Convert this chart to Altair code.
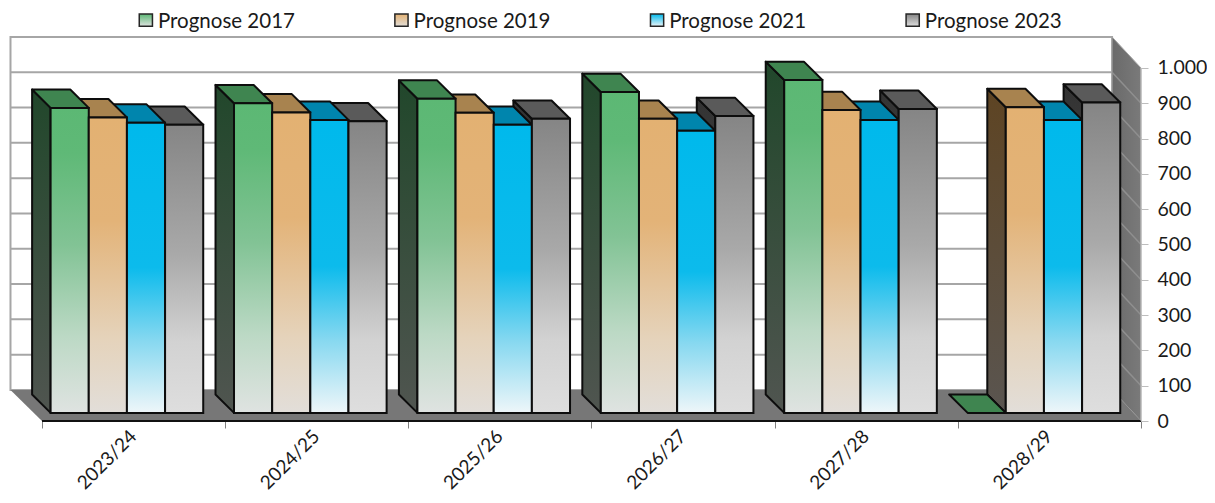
import json
import altair as alt
import pandas as pd

categories = ["2023/24", "2024/25", "2025/26", "2026/27", "2027/28", "2028/29"]
series = ["Prognose 2017", "Prognose 2019", "Prognose 2021", "Prognose 2023"]
values_2017 = [864, 877, 890, 909, 943, 0]
values_2019 = [837, 851, 850, 833, 858, 866]
values_2021 = [822, 830, 816, 799, 830, 830]
values_2023 = [816, 826, 833, 841, 861, 879]
all_values = [values_2017, values_2019, values_2021, values_2023]
y_ticks = list(range(0, 1100, 100))

FRONT = [
    [(0, "#5cb874"), (0.15, "#5fb977"), (0.45, "#82c395"), (0.75, "#bcd9c5"), (1, "#dfe3e1")],
    [(0, "#e3b172"), (0.35, "#e3b378"), (0.75, "#e5d3bb"), (1, "#e2ded9")],
    [(0, "#00b9ec"), (0.5, "#0cbbec"), (0.75, "#86d8f0"), (1, "#eef6f9")],
    [(0, "#858585"), (0.45, "#a9a9a9"), (0.75, "#d2d2d2"), (1, "#dedede")],
]
SIDE = [
    [(0, "#21472b"), (1, "#505550")],
    [(0, "#5e4423"), (1, "#5a5550")],
    [(0, "#00465f"), (1, "#50565a")],
    [(0, "#333333"), (1, "#555555")],
]
TOP = ["#3f8550", "#a8834f", "#0085ad", "#5a5a5a"]
FONT = "Lato"
INK = "#1a1a1a"
GRID = "#a6a6a6"

# scale geometry
W, H = 1133, 409
XDOM = [-34 / 183.17, 6]
YDOM = [0, 1158.6]
xs = alt.Scale(domain=XDOM, nice=False, zero=False)
ys = alt.Scale(domain=YDOM, nice=False, zero=False)

# depth constants in data units
WALL_L, WALL_R = -0.172, 5.842
WALL_DX, WALL_DY = 0.164, 88
BAR_W, BAR_X0, PITCH = 0.2083, 0.047, 1.0013
BAR_BASE, BAR_DX, BAR_DY = 23, 0.101, 52

x_expr = f"{json.dumps(categories)}[datum.value] || ''"
x_axis = alt.Axis(values=list(range(7)), domain=False, grid=False, tickColor="#808080", tickSize=7,
                  tickWidth=1, labelExpr=x_expr, labelAngle=315, labelAlign="right",
                  labelBaseline="middle", labelOffset=91, labelPadding=5, labelFont=FONT,
                  labelFontSize=19, labelColor=INK, labelFlush=False, labelOverlap=False,
                  labelBound=False)
y_axis = alt.Axis(orient="right", values=y_ticks, domain=False, grid=False, tickColor="#bdbdbd",
                  tickSize=7, tickWidth=1, labelExpr="datum.value == 1000 ? '1.000' : datum.label",
                  labelPadding=9, labelFont=FONT, labelFontSize=19.5, labelColor=INK,
                  labelOverlap=False, labelFlush=False, labelBound=False)


def grad(stops):
    return {"gradient": "linear", "x1": 0, "y1": 0, "x2": 0, "y2": 1,
            "stops": [{"offset": o, "color": c} for o, c in stops]}


def X():
    return alt.X("x:Q", scale=xs, axis=x_axis, title=None)


def Y():
    return alt.Y("y:Q", scale=ys, axis=y_axis, title=None, stack=None)


def rect(df, **mk):
    return alt.Chart(df).mark_rect(**mk).encode(X(), alt.X2("x2:Q"), Y(), alt.Y2("y2:Q"))


front_rows, side_rows, top_rows = [[], [], [], []], [[], [], [], []], [[], [], [], []]
for j, vals in enumerate(all_values):
    for i, v in enumerate(vals):
        x0 = BAR_X0 + i * PITCH + j * BAR_W
        x1 = x0 + BAR_W
        yb, yt = BAR_BASE, BAR_BASE + v
        key = f"{i}-{j}"
        if v > 0:
            front_rows[j].append({"x": x0, "x2": x1, "y": yb, "y2": yt})
            side_rows[j].append({"id": key, "x": x0, "y": yb, "y2": yt})
            side_rows[j].append({"id": key, "x": x0 - BAR_DX, "y": yb + BAR_DY, "y2": yt + BAR_DY})
        top_rows[j].append({"id": key, "y": yt, "x": x0, "x2": x1})
        top_rows[j].append({"id": key, "y": yt + BAR_DY, "x": x0 - BAR_DX, "x2": x1 - BAR_DX})

layers = []

# back wall
wall = pd.DataFrame([{"x": WALL_L, "x2": WALL_R, "y": WALL_DY, "y2": 1000 + WALL_DY}])
layers.append(rect(wall, fill="white", stroke=GRID, strokeWidth=2))

# gridlines on back wall and right side wall
tick_rows = [t for t in y_ticks if 0 < t < 1000]
grid_df = pd.DataFrame([{"x": WALL_L, "x2": WALL_R, "y": t + WALL_DY} for t in tick_rows])
layers.append(alt.Chart(grid_df).mark_rule(color=GRID, strokeWidth=2).encode(X(), alt.X2("x2:Q"), Y()))

side_wall = pd.DataFrame([
    {"x": WALL_R, "y": WALL_DY, "y2": 1000 + WALL_DY},
    {"x": 6, "y": 0, "y2": 1000},
])
layers.append(alt.Chart(side_wall).mark_area(
    fill={"gradient": "linear", "x1": 0, "y1": 0, "x2": 1, "y2": 0,
          "stops": [{"offset": 0, "color": "#6a6a6a"}, {"offset": 1, "color": "#7a7a7a"}]},
    stroke=GRID, strokeWidth=1,
).encode(X(), Y(), alt.Y2("y2:Q")))

diag = []
for t in tick_rows:
    diag.append({"id": t, "x": WALL_R, "y": t + WALL_DY})
    diag.append({"id": t, "x": 6, "y": t})
layers.append(alt.Chart(pd.DataFrame(diag)).mark_line(color="#8f8f8f", strokeWidth=1.5).encode(
    X(), Y(), alt.Detail("id:N")))

# floor
floor = pd.DataFrame([
    {"y": 0, "x": 0, "x2": 6},
    {"y": WALL_DY, "x": WALL_L, "x2": WALL_R},
])
layers.append(alt.Chart(floor).mark_area(orient="horizontal", fill="#777777").encode(
    X(), alt.X2("x2:Q"), Y()))

# bars: sides, then tops (right to left, a taller left bar hides its neighbour), then fronts
for j in range(4):
    layers.append(alt.Chart(pd.DataFrame(side_rows[j])).mark_area(
        fill=grad(SIDE[j]), stroke="#0d0d0d", strokeWidth=2, strokeJoin="round",
    ).encode(X(), Y(), alt.Y2("y2:Q"), alt.Detail("id:N")))
for j in reversed(range(4)):
    layers.append(alt.Chart(pd.DataFrame(top_rows[j])).mark_area(
        orient="horizontal", fill=TOP[j], stroke="#0d0d0d", strokeWidth=2, strokeJoin="round",
    ).encode(X(), alt.X2("x2:Q"), Y(), alt.Detail("id:N")))
for j in range(4):
    layers.append(rect(pd.DataFrame(front_rows[j]), fill=grad(FRONT[j]), stroke="#0d0d0d", strokeWidth=2))

# axis lines
layers.append(alt.Chart(pd.DataFrame([{"x": 0, "x2": 6, "y": 0}])).mark_rule(
    color="#111111", strokeWidth=2).encode(X(), alt.X2("x2:Q"), Y()))
layers.append(alt.Chart(pd.DataFrame([{"x": 6, "y": 0, "y2": 1000}])).mark_rule(
    color="#bdbdbd", strokeWidth=1).encode(X(), Y(), alt.Y2("y2:Q")))

# legend
LEG_X0, LEG_STEP, LEG_W = 0.531, 1.3955, 0.072
for k in range(4):
    sq = pd.DataFrame([{"x": LEG_X0 + k * LEG_STEP, "x2": LEG_X0 + k * LEG_STEP + LEG_W,
                        "y": 1118, "y2": 1153}])
    stops = [(0, FRONT[k][0][1]), (1, FRONT[k][-1][1])]
    layers.append(rect(sq, fill=grad(stops), stroke="#262626", strokeWidth=1.5))
leg_txt = pd.DataFrame([{"x": LEG_X0 + k * LEG_STEP + 0.102, "y": 1130, "t": s} for k, s in enumerate(series)])
layers.append(alt.Chart(leg_txt).mark_text(
    align="left", baseline="middle", font=FONT, fontSize=20.5, color=INK
).encode(X(), Y(), text="t:N"))

chart = alt.layer(*layers).properties(
    width=W, height=H,
    padding={"left": 0, "top": 4, "right": 66, "bottom": 74},
    autosize=alt.AutoSizeParams(type="none"),
).configure_view(stroke=None)

chart.save("out.html", embed_options={"renderer": "svg", "actions": False})
